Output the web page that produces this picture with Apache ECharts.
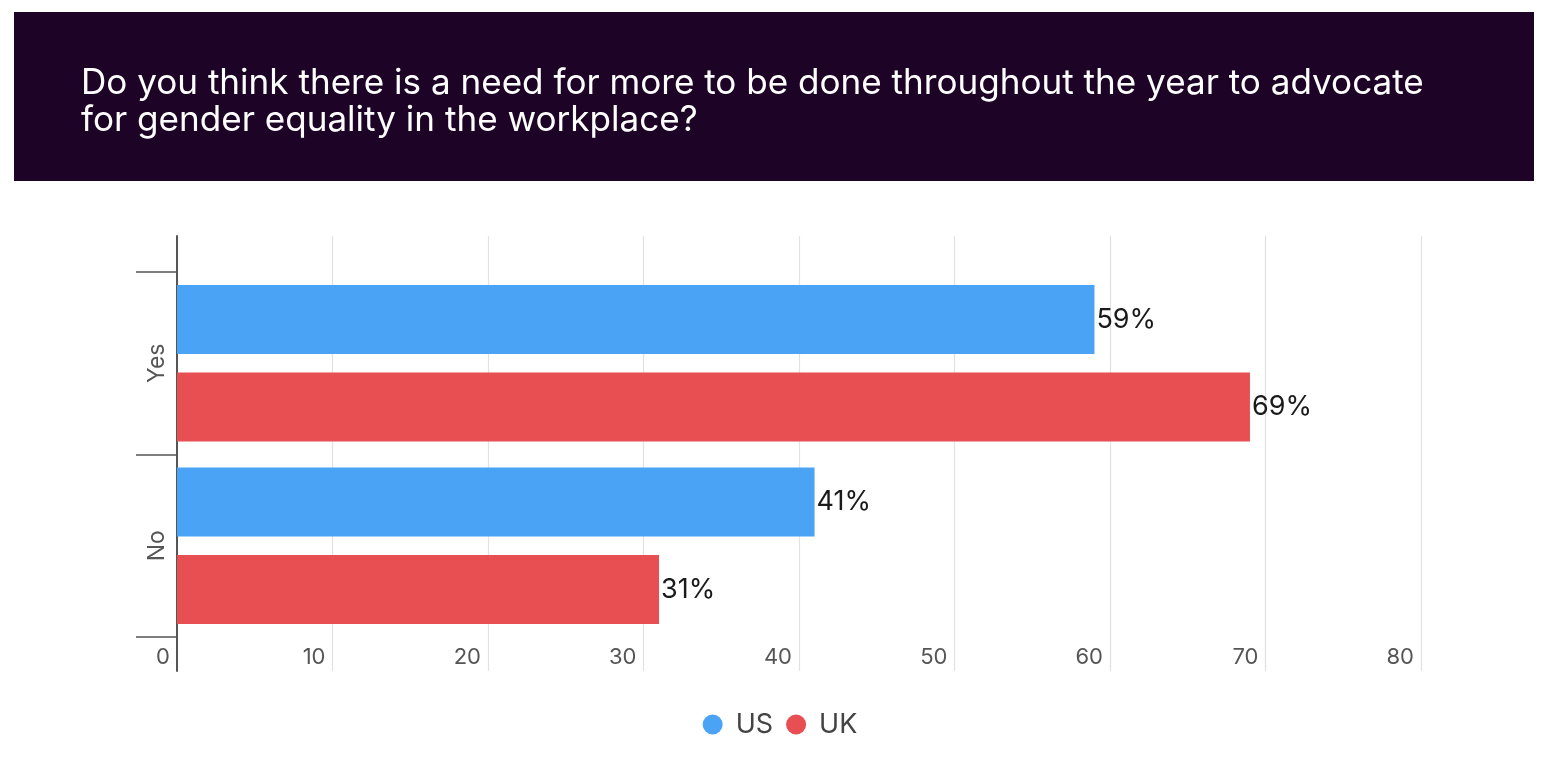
<!DOCTYPE html>
<html>
<head>
<meta charset="utf-8">
<title>Gender equality advocacy</title>
<script src="https://cdn.jsdelivr.net/npm/echarts@6/dist/echarts.min.js"></script>
<style>
  html, body { margin: 0; padding: 0; background: #fff; }
  #chart { width: 1560px; height: 770px; }
</style>
</head>
<body>
<div id="chart"></div>
<script>
var titleLines = [
	'Do you think there is a need for more to be done throughout the year to advocate',
	'for gender equality in the workplace?'
];
var categories = ['Yes', 'No'];
var seriesNames = ['US', 'UK'];
var usValues = [59, 41];
var ukValues = [69, 31];
var axisMin = 0;
var axisMax = 80;
var axisStep = 10;

var font = 'Inter';

// size the title so the first line spans the banner like the original
var ctx = document.createElement('canvas').getContext('2d');
ctx.font = '32px ' + font;
var titleSize = Math.round(32 * 1342 / ctx.measureText(titleLines[0]).width * 10) / 10;

var chart = echarts.init(document.getElementById('chart'));

chart.setOption({
	animation: false,
	textStyle: { fontFamily: font },
	graphic: [{
		type: 'rect',
		z: -1,
		shape: { x: 14, y: 12, width: 1520, height: 169 },
		style: { fill: '#1d0426' }
	}],
	title: {
		text: titleLines.join('\n'),
		left: 81,
		top: 65,
		padding: 0,
		textStyle: {
			color: '#ffffff',
			fontSize: titleSize,
			fontWeight: 'normal',
			lineHeight: 37,
			fontFamily: font
		}
	},
	legend: {
		data: seriesNames,
		left: 'center',
		top: 706,
		icon: 'circle',
		itemWidth: 20,
		itemHeight: 20,
		itemGap: 13,
		textStyle: {
			fontSize: 27,
			color: '#444',
			padding: [0, 0, 0, 8]
		}
	},
	grid: [
		// outer frame: grid lines, axis line and value labels
		{ left: 177, right: 139, top: 236, bottom: 99 },
		// inner band area holding the bars
		{ left: 177, right: 139, top: 272, bottom: 133 }
	],
	xAxis: [{
		gridIndex: 0,
		type: 'value',
		min: axisMin,
		max: axisMax,
		interval: axisStep,
		axisLine: { show: false },
		axisTick: { show: false },
		splitLine: { lineStyle: { color: '#e2e2e2', width: 1.2 } },
		axisLabel: {
			margin: -14,
			align: 'right',
			verticalAlign: 'middle',
			padding: [0, 7, 0, 0],
			fontSize: 22,
			color: '#555'
		}
	}, {
		gridIndex: 1,
		type: 'value',
		min: axisMin,
		max: axisMax,
		show: false
	}],
	yAxis: [{
		gridIndex: 0,
		type: 'value',
		min: 0,
		max: 1,
		axisLine: { show: true, lineStyle: { color: '#555', width: 2 } },
		axisTick: { show: false },
		axisLabel: { show: false },
		splitLine: { show: false }
	}, {
		gridIndex: 1,
		type: 'category',
		data: categories,
		inverse: true,
		axisLine: { show: false },
		axisTick: { show: true, length: 41, lineStyle: { color: '#555', width: 1.5 } },
		axisLabel: {
			rotate: 90,
			margin: 8,
			fontSize: 23,
			color: '#555'
		}
	}],
	series: [{
		name: 'US',
		type: 'bar',
		xAxisIndex: 1,
		yAxisIndex: 1,
		data: usValues,
		barWidth: 69,
		barGap: '27%',
		itemStyle: { color: '#4aa3f5' },
		label: {
			show: true,
			position: 'right',
			distance: 2,
			formatter: '{c}%',
			fontSize: 27,
			color: '#1a1a1a'
		}
	}, {
		name: 'UK',
		type: 'bar',
		xAxisIndex: 1,
		yAxisIndex: 1,
		data: ukValues,
		barWidth: 69,
		barGap: '27%',
		itemStyle: { color: '#e84f53' },
		label: {
			show: true,
			position: 'right',
			distance: 2,
			formatter: '{c}%',
			fontSize: 27,
			color: '#1a1a1a'
		}
	}]
});

window.addEventListener('resize', function () {
	chart.resize();
});
</script>
</body>
</html>
